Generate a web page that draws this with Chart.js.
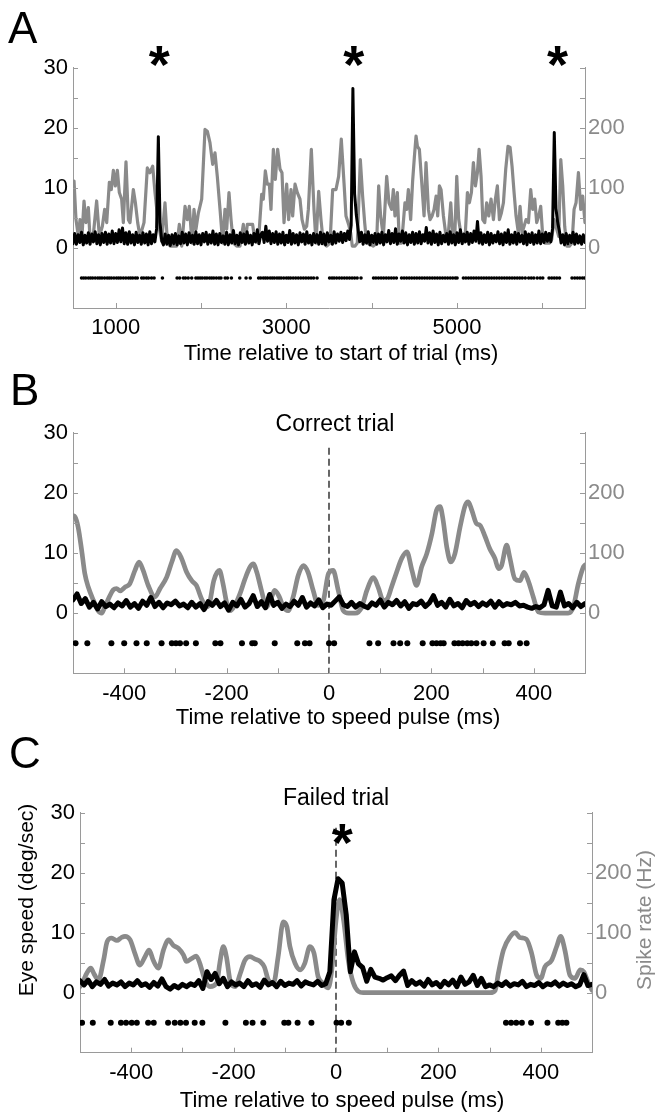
<!DOCTYPE html>
<html><head><meta charset="utf-8">
<script src="https://cdn.jsdelivr.net/npm/chart.js@4.4.1/dist/chart.umd.min.js"></script>
<style>
html,body{margin:0;padding:0;background:#fff;}
#wrap{position:relative;width:655px;height:1113px;overflow:hidden;}
canvas{position:absolute;left:0;}
</style></head><body>
<div id="wrap">
<canvas id="cA" width="655" height="365" style="top:0px"></canvas>
<canvas id="cB" width="655" height="365" style="top:365px"></canvas>
<canvas id="cC" width="655" height="383" style="top:730px"></canvas>
</div>
<script>
// ---------------- DATA ----------------
// Panel A: eye speed (deg/s), sampled every 20 ms from 500 ms
const eyeA_start = 500, eyeA_step = 20;
const eyeA = [
0.7,2.4,0.6,2.2,0.9,2.6,0.5,2.1,0.8,2.5,0.6,2.3,1.0,2.7,0.7,2.2,0.5,2.4,0.9,2.6,
0.6,2.3,0.8,2.8,0.7,2.4,0.9,3.0,1.0,3.3,0.7,2.5,0.6,2.7,0.8,2.2,0.5,2.6,0.9,2.1,
0.6,2.5,0.8,2.3,0.5,2.7,0.7,2.2,1.0,3.2,18.5,4.2,1.2,0.5,2.3,0.6,2.1,0.4,2.2,0.7,
2.4,0.5,2.0,0.7,2.6,0.8,2.3,0.5,2.5,0.9,2.1,0.6,2.7,0.7,2.2,0.5,2.4,1.0,2.6,0.6,
2.2,0.8,2.8,0.6,2.3,0.5,2.4,0.9,2.0,0.6,2.6,0.5,2.2,0.8,2.9,0.7,2.1,0.5,2.5,0.9,
2.3,0.6,2.7,0.8,2.1,0.5,2.4,1.0,3.0,0.7,2.2,2.6,0.9,3.6,1.1,2.8,0.7,2.4,0.9,2.7,
0.6,2.3,0.8,2.6,0.5,2.1,0.9,2.9,0.6,2.4,0.8,2.2,0.5,2.5,1.0,2.3,0.6,2.7,0.8,2.1,
0.5,2.4,0.9,2.2,0.6,2.6,0.7,2.3,0.5,2.5,1.0,2.1,0.6,2.7,0.8,2.3,1.1,2.6,0.9,2.4,
1.2,2.8,1.4,3.8,26.5,9.0,5.5,3.2,1.0,2.6,0.6,2.2,0.8,2.7,0.5,2.1,0.9,2.4,0.6,2.3,
0.8,2.6,0.5,2.2,1.0,2.9,0.7,2.4,0.9,3.2,0.6,2.3,1.1,2.8,0.8,2.5,0.5,2.2,0.9,2.6,
0.6,2.4,0.8,2.7,0.7,2.2,1.1,3.4,0.8,2.5,0.6,2.8,0.9,2.3,0.5,2.6,0.7,2.1,1.0,2.4,
0.6,2.7,0.8,2.2,0.5,2.5,0.9,3.0,0.7,2.3,1.0,2.6,0.6,2.4,0.9,2.8,1.1,4.4,0.8,2.5,
0.6,2.2,0.9,2.6,0.5,2.4,0.8,2.1,1.0,2.7,0.7,2.3,0.5,2.5,0.9,3.0,0.6,2.2,0.8,2.6,
0.6,2.4,1.0,2.1,0.7,2.7,0.5,2.3,0.9,2.5,0.6,2.2,0.8,2.8,0.7,2.3,0.9,2.6,1.1,2.4,
1.0,3.2,19.2,6.5,4.2,2.8,0.8,2.2,0.5,2.4,0.7,2.1,0.9,2.6,0.6,2.3,0.8,2.0,0.6,2.2,
0.9];
// Panel A: spike rate (Hz) as [time ms, rate]
const rateA = [[500,110],[512,111],[535,47],[563,19],[582,47],[602,11],[629,78],[652,42],[680,67],[699,17],[731,11],[777,78],[809,19],[844,36],[871,64],[895,42],[926,109],[949,97],[973,129],[996,103],[1020,129],[1043,92],[1070,81],[1090,42],[1121,143],[1149,47],[1168,42],[1207,97],[1231,75],[1258,42],[1285,19],[1332,42],[1371,133],[1402,125],[1434,136],[1461,92],[1500,40],[1539,11],[1578,75],[1606,11],[1637,3],[1676,3],[1715,3],[1746,39],[1774,3],[1813,69],[1840,47],[1863,69],[1895,8],[1918,64],[1941,31],[1969,58],[2008,81],[2047,197],[2074,194],[2105,175],[2137,139],[2164,158],[2191,119],[2223,64],[2254,8],[2281,64],[2301,31],[2328,92],[2352,47],[2379,8],[2418,3],[2457,3],[2496,39],[2516,8],[2543,39],[2574,39],[2605,39],[2633,11],[2672,8],[2711,89],[2730,81],[2754,128],[2777,106],[2801,106],[2820,64],[2848,164],[2871,114],[2898,164],[2926,131],[2949,125],[2973,42],[3004,106],[3027,47],[3055,97],[3074,53],[3102,106],[3129,92],[3160,81],[3184,47],[3211,31],[3238,36],[3258,64],[3293,164],[3324,64],[3348,8],[3379,94],[3406,47],[3434,8],[3473,3],[3512,8],[3543,97],[3582,97],[3613,119],[3644,181],[3676,108],[3699,53],[3730,39],[3754,25],[3773,3],[3805,3],[3832,8],[3867,147],[3894,86],[3918,42],[3941,8],[3980,6],[4019,3],[4058,8],[4082,103],[4105,53],[4137,19],[4176,119],[4203,75],[4234,64],[4254,97],[4273,53],[4301,92],[4324,8],[4351,8],[4390,75],[4410,64],[4430,97],[4457,47],[4480,111],[4500,150],[4520,186],[4536,169],[4559,164],[4587,108],[4614,53],[4637,142],[4665,64],[4684,47],[4708,53],[4731,64],[4755,86],[4774,53],[4794,103],[4813,97],[4841,53],[4872,19],[4899,25],[4927,75],[4950,19],[4973,14],[4997,119],[5020,47],[5044,25],[5067,8],[5094,14],[5122,92],[5145,75],[5169,92],[5192,142],[5216,103],[5239,125],[5259,164],[5282,119],[5302,47],[5325,42],[5348,75],[5372,53],[5399,81],[5427,47],[5450,81],[5473,103],[5497,47],[5520,58],[5544,75],[5571,131],[5598,169],[5622,167],[5645,136],[5669,92],[5692,53],[5719,25],[5739,69],[5762,25],[5786,36],[5809,47],[5837,42],[5864,97],[5887,64],[5911,81],[5934,42],[5958,53],[5981,69],[6005,19],[6028,8],[6052,8],[6083,8],[6110,14],[6137,47],[6169,31],[6192,19],[6216,147],[6239,103],[6262,36],[6286,3],[6317,3],[6348,8],[6372,64],[6395,75],[6423,125],[6450,64],[6473,86],[6500,42]];
// Panel A: spike times (ms)
const spikesA = [600,625,650,680,705,730,760,790,815,840,870,900,925,950,980,1010,1035,1060,1090,1120,1150,1175,1200,1230,1254,1305,1330,1360,1385,1420,1450,1548,1720,1750,1793,1818,1850,1891,1940,1965,1990,2015,2045,2070,2100,2125,2150,2180,2210,2234,2283,2310,2356,2454,2528,2577,2675,2700,2730,2755,2780,2810,2835,2860,2890,2915,2940,2970,3000,3025,3050,3080,3110,3140,3170,3200,3230,3260,3290,3320,3360,3507,3535,3560,3590,3620,3650,3680,3710,3740,3770,3800,3830,3875,4022,4050,4080,4110,4140,4170,4200,4230,4260,4290,4350,4380,4410,4440,4470,4500,4530,4560,4590,4620,4650,4680,4710,4740,4770,4800,4830,4860,4890,4920,4950,4980,5001,5075,5105,5135,5165,5195,5225,5255,5285,5315,5345,5375,5405,5435,5465,5495,5525,5555,5585,5615,5645,5675,5705,5735,5765,5800,5840,5870,5900,5940,5975,6005,6079,6110,6140,6170,6201,6348,6380,6410,6440,6470,6495];
const starsA = [1512, 3789, 6178];

// Panel B (correct trial): eye speed every 8 ms from -500
const eyeB_start = -500, eyeB_step = 8;
const eyeB = [
2.2,3.2,1.6,2.4,1.0,1.8,0.7,1.9,1.1,1.5,
0.9,1.7,1.2,2.1,1.0,1.6,0.8,2.0,1.3,2.6,
1.1,1.8,0.9,1.7,1.4,2.0,1.2,1.5,0.9,1.8,
1.0,1.6,0.6,1.9,1.3,2.1,1.1,1.7,0.5,1.8,
1.2,2.3,1.0,1.6,2.9,1.1,1.9,0.9,3.1,1.3,
1.8,0.8,1.5,1.1,2.0,1.3,2.6,1.0,1.7,1.2,
2.2,0.9,1.5,1.3,2.0,2.7,1.4,1.1,1.8,1.0,
1.6,1.2,0.9,1.7,1.3,2.2,1.0,1.8,1.4,2.1,
1.2,1.9,0.8,1.6,1.4,2.0,1.1,1.7,2.9,1.3,
1.8,1.0,2.3,1.2,1.6,0.9,2.1,1.4,1.8,1.1,
1.7,1.3,2.0,1.0,1.9,1.2,1.6,1.4,1.8,1.2,
1.3,1.0,0.8,1.1,0.9,1.4,3.8,1.2,1.0,3.5,
1.2,1.6,0.9,1.8,1.1,1.6];
const rateB = [[-500,162],[-496,160],[-490,143],[-483,104],[-477,66],[-470,43],[-460,21],[-451,4],[-444,0],[-438,10],[-429,27],[-421,39],[-415,41],[-408,37],[-399,43],[-389,49],[-379,71],[-371,85],[-363,71],[-353,46],[-340,27],[-330,41],[-317,60],[-307,85],[-298,104],[-288,91],[-278,68],[-268,54],[-259,46],[-249,24],[-239,10],[-233,18],[-225,54],[-214,71],[-207,49],[-200,18],[-193,4],[-184,13],[-174,32],[-164,57],[-154,77],[-148,82],[-141,68],[-132,38],[-122,10],[-112,27],[-106,38],[-97,27],[-89,10],[-80,4],[-70,27],[-60,63],[-50,79],[-41,68],[-31,38],[-21,13],[-11,21],[-1,66],[8,71],[18,38],[28,4],[38,0],[51,0],[64,10],[74,38],[87,59],[96,43],[106,21],[114,24],[122,43],[132,68],[142,91],[152,102],[162,71],[171,46],[181,77],[191,99],[201,132],[210,171],[217,177],[223,154],[230,110],[238,85],[246,99],[256,143],[266,179],[272,185],[279,171],[288,149],[295,146],[305,127],[314,107],[324,91],[331,74],[337,79],[347,113],[353,93],[363,57],[373,54],[381,68],[389,54],[399,27],[409,2],[422,0],[448,0],[467,0],[477,10],[487,49],[497,77],[500,80]];
const spikesB = [-495,-472,-425,-400,-376,-356,-327,-307,-299,-291,-279,-260,-222,-212,-170,-150,-145,-106,-62,-47,-38,0,10,79,96,126,139,153,183,202,210,218,224,245,253,261,270,278,288,302,320,343,351,373,386];

// Panel C (failed trial): eye speed every 8 ms from -500
const eyeC_start = -500, eyeC_step = 8;
const eyeC = [
2.0,1.3,2.1,1.0,1.8,1.4,2.2,1.1,1.6,1.3,
1.8,1.0,1.6,1.3,2.0,1.2,1.5,0.9,1.7,1.1,
2.3,1.0,0.6,1.2,0.8,1.4,1.0,1.5,1.2,2.0,
0.7,3.5,2.2,3.2,1.5,2.4,1.0,1.8,1.3,1.6,
1.0,2.0,1.2,1.5,0.9,2.1,1.3,1.7,1.0,1.9,
1.2,1.6,1.4,2.0,1.1,1.8,1.5,1.3,1.9,1.2,
1.5,3.5,15.5,19.0,18.3,13.0,3.5,6.8,4.8,4.2,
1.9,3.9,2.6,2.4,2.1,2.5,2.8,2.0,2.9,3.6,
1.2,2.0,1.4,1.8,1.1,2.2,1.3,1.7,1.0,1.9,
1.3,2.1,1.0,2.6,1.4,1.8,2.9,1.2,2.4,1.0,
1.3,1.0,1.6,1.2,1.8,1.1,1.5,1.3,1.9,1.0,
1.4,1.2,1.7,1.0,1.5,1.3,1.8,1.1,1.6,1.2,
1.5,1.0,1.3,3.0,1.2,1.4];
const rateC = [[-500,10],[-493,21],[-487,32],[-479,41],[-473,32],[-464,21],[-454,54],[-447,85],[-438,91],[-428,87],[-419,92],[-412,94],[-402,88],[-393,66],[-383,46],[-373,60],[-365,71],[-357,54],[-347,41],[-337,71],[-327,88],[-318,79],[-308,74],[-298,63],[-292,52],[-282,57],[-273,61],[-266,49],[-256,21],[-246,10],[-233,16],[-227,49],[-220,77],[-214,60],[-207,21],[-197,10],[-187,32],[-178,54],[-168,60],[-158,56],[-148,52],[-140,43],[-132,21],[-122,16],[-113,60],[-103,118],[-96,110],[-90,77],[-80,49],[-70,38],[-61,49],[-51,77],[-43,66],[-35,27],[-26,16],[-15,8],[-8,40],[0,120],[7,155],[15,120],[24,54],[34,16],[44,2],[53,0],[301,0],[311,4],[317,32],[327,71],[340,93],[350,100],[359,92],[372,89],[382,66],[392,29],[400,24],[408,43],[421,54],[431,77],[439,94],[447,71],[457,29],[467,24],[477,38],[484,35],[493,16],[500,4]];
const spikesC = [-496,-475,-440,-420,-410,-399,-389,-367,-356,-328,-315,-304,-293,-276,-261,-216,-176,-163,-142,-101,-93,-75,-48,1,10,25,332,342,352,363,381,413,434,442,450];
const starsC = [12];

// tick values
const yTicksEye = [0,5,10,15,20,25,30];
const yLabelsEye = [0,10,20,30];
const yTicksRate = [0,50,100,150,200,250,300];
const yLabelsRate = [0,100,200];
const xTicksA = [1000,2000,3000,4000,5000,6000];
const xLabelsA = [1000,3000,5000];
const xTicksBC = [-400,-300,-200,-100,0,100,200,300,400];
const xLabelsBC = [-400,-200,0,200,400];
const rasterLevel = -5;
const dashTop = 27.5, dashBottom = -10;

// ---------------- STYLE ----------------
const FONT = '"Liberation Sans", Arial, Helvetica, sans-serif';
const GRAY = '#8a8a8a';
const AXIS = '#9a9a9a';
const W = 655;

function series(arr, start, step){ return arr.map((v,i)=>({x:start+i*step, y:v})); }
function pairs(arr){ return arr.map(p=>({x:p[0], y:p[1]})); }
function raster(arr){ return arr.map(t=>({x:t, y:rasterLevel})); }

const decor = {
  id:'decor',
  afterDraw(chart, args, o){
    const ctx = chart.ctx, a = chart.chartArea;
    const sx = chart.scales.x, yl = chart.scales.yL, yr = chart.scales.yR;
    ctx.save();
    ctx.strokeStyle = AXIS; ctx.lineWidth = 1;
    ctx.beginPath();
    yTicksEye.forEach(v=>{const y=Math.round(yl.getPixelForValue(v))+0.5; ctx.moveTo(a.left,y); ctx.lineTo(a.left+5,y);});
    yTicksRate.forEach(v=>{const y=Math.round(yr.getPixelForValue(v))+0.5; ctx.moveTo(a.right,y); ctx.lineTo(a.right-5,y);});
    o.xTicks.forEach(v=>{const x=Math.round(sx.getPixelForValue(v))+0.5; ctx.moveTo(x,a.bottom); ctx.lineTo(x,a.bottom-5);});
    ctx.stroke();
    // asterisks
    ctx.fillStyle = '#000';
    ctx.font = 'bold 54px ' + FONT;
    ctx.textAlign = 'center'; ctx.textBaseline = 'alphabetic';
    const m = ctx.measureText('*');
    const off = (m.actualBoundingBoxAscent - m.actualBoundingBoxDescent)/2;
    o.stars.forEach(t=>{ ctx.fillText('*', sx.getPixelForValue(t), yl.getPixelForValue(o.starLevel) + off); });
    // texts
    o.texts.forEach(t=>{
      ctx.font = t.font; ctx.fillStyle = t.color || '#000';
      ctx.textAlign = t.align || 'center';
      if (t.rot) {
        ctx.save(); ctx.translate(t.x, t.y); ctx.rotate(-Math.PI/2);
        ctx.textBaseline = 'middle'; ctx.fillText(t.text, 0, 0); ctx.restore();
      } else { ctx.textBaseline = 'alphabetic'; ctx.fillText(t.text, t.x, t.y); }
    });
    ctx.restore();
  }
};

function makeChart(id, p){
  const H = document.getElementById(id).height;
  const datasets = [
    {label:'eye', data:p.eye, yAxisID:'yL', borderColor:'#000', borderWidth:p.lw, borderJoinStyle:'round', borderCapStyle:'round', pointRadius:0, tension:0, order:0},
    {label:'spikes', data:p.spikes, yAxisID:'yL', showLine:false, pointRadius:p.dotR, pointBackgroundColor:'#000', pointBorderWidth:0, borderColor:'#000', order:1},
    {label:'rate', data:p.rate, yAxisID:'yR', borderColor:GRAY, borderWidth:p.lwG, borderJoinStyle:'round', borderCapStyle:'round', pointRadius:0, tension:p.tension, cubicInterpolationMode:p.tension?'monotone':'default', order:2}
  ];
  if (p.dashed) datasets.push({label:'zero', data:[{x:0,y:dashTop},{x:0,y:dashBottom}], yAxisID:'yL', borderColor:'#000', borderWidth:1.2, borderDash:[7,4], pointRadius:0, order:3});
  return new Chart(document.getElementById(id), {
    type:'line',
    data:{datasets},
    options:{
      responsive:false, animation:false, events:[],
      layout:{padding:{top:p.top, left:0, right:0, bottom:0}},
      plugins:{legend:{display:false}, tooltip:{enabled:false},
        decor:{xTicks:p.xTicks, stars:p.stars, starLevel:p.starLevel, texts:p.texts}},
      scales:{
        x:{type:'linear', min:p.xmin, max:p.xmax,
          afterBuildTicks:s=>{ s.ticks = p.xTicks.map(v=>({value:v})); },
          afterFit:s=>{ s.height = H - p.bottom; },
          grid:{drawOnChartArea:false, drawTicks:false},
          border:{color:AXIS, width:1},
          ticks:{autoSkip:false, maxRotation:0, padding:7, color:'#000', font:{family:FONT, size:22},
            callback:v=> p.xLabels.includes(v) ? String(v) : ''}},
        yL:{type:'linear', position:'left', min:-10, max:30,
          afterFit:s=>{ s.width = p.left; },
          grid:{drawOnChartArea:false, drawTicks:false},
          border:{color:AXIS, width:1},
          ticks:{stepSize:5, autoSkip:false, padding:5, color:'#000', font:{family:FONT, size:22},
            callback:v=> yLabelsEye.includes(v) ? String(v) : ''}},
        yR:{type:'linear', position:'right', min:-100, max:300,
          afterFit:s=>{ s.width = W - p.right; },
          grid:{drawOnChartArea:false, drawTicks:false},
          border:{color:AXIS, width:1},
          ticks:{stepSize:50, autoSkip:false, padding:3, color:GRAY, font:{family:FONT, size:22},
            callback:v=> yLabelsRate.includes(v) ? String(v) : ''}}
      }
    },
    plugins:[decor]
  });
}

const F_LET = '44px ' + FONT, F_T = '22px ' + FONT, F_TT = '23px ' + FONT, F_Y = '21px ' + FONT;

makeChart('cA', {
  eye: series(eyeA, eyeA_start, eyeA_step), rate: pairs(rateA), spikes: raster(spikesA),
  lw:3, lwG:3.2, dotR:1.8, tension:0, dashed:false,
  xmin:500, xmax:6500, xTicks:xTicksA, xLabels:xLabelsA,
  top:67.5, bottom:308, left:73, right:585,
  stars:starsA, starLevel:31.8,
  texts:[
    {text:'A', x:8, y:43, font:F_LET, align:'left'},
    {text:'Time relative to start of trial (ms)', x:341, y:360, font:F_T}
  ]
});
makeChart('cB', {
  eye: series(eyeB, eyeB_start, eyeB_step), rate: pairs(rateB), spikes: raster(spikesB),
  lw:5, lwG:4.7, dotR:3, tension:0.4, dashed:true,
  xmin:-500, xmax:500, xTicks:xTicksBC, xLabels:xLabelsBC,
  top:67.7, bottom:308.3, left:73, right:585,
  stars:[], starLevel:0,
  texts:[
    {text:'B', x:10, y:40, font:F_LET, align:'left'},
    {text:'Correct trial', x:335, y:66, font:F_TT},
    {text:'Time relative to speed pulse (ms)', x:338, y:359, font:F_T}
  ]
});
makeChart('cC', {
  eye: series(eyeC, eyeC_start, eyeC_step), rate: pairs(rateC), spikes: raster(spikesC),
  lw:5, lwG:4.7, dotR:3, tension:0.4, dashed:true,
  xmin:-500, xmax:500, xTicks:xTicksBC, xLabels:xLabelsBC,
  top:82.7, bottom:322.7, left:80, right:592,
  stars:starsC, starLevel:26.4,
  texts:[
    {text:'C', x:9, y:38, font:F_LET, align:'left'},
    {text:'Failed trial', x:336, y:75, font:F_TT},
    {text:'Time relative to speed pulse (ms)', x:342, y:377, font:F_T},
    {text:'Eye speed (deg/sec)', x:27, y:170, font:F_Y, rot:true},
    {text:'Spike rate (Hz)', x:645, y:190, font:F_Y, rot:true, color:GRAY}
  ]
});
</script>
</body></html>
